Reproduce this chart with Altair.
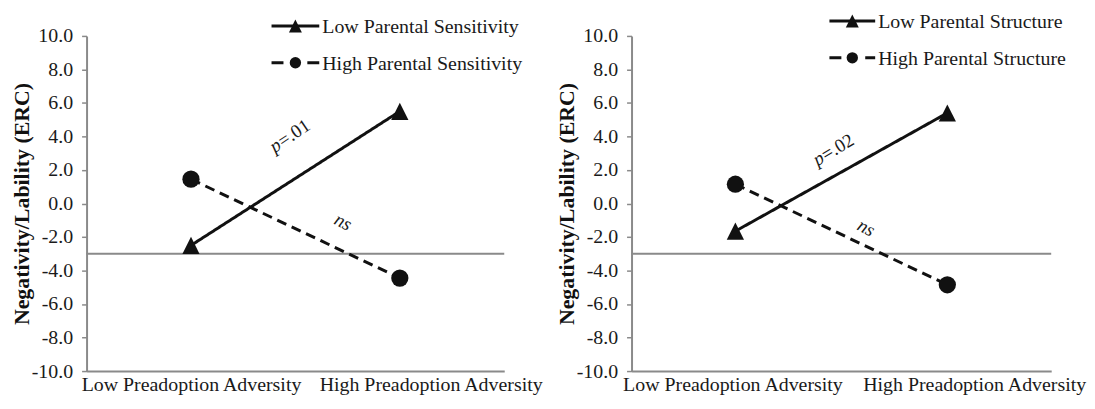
import altair as alt
import pandas as pd

# ---------------- data ----------------
CATEGORIES = ["Low Preadoption Adversity", "High Preadoption Adversity"]
Y_TICKS = [-10, -8, -6, -4, -2, 0, 2, 4, 6, 8, 10]
Y_TITLE = "Negativity/Lability (ERC)"
REF_LINE = -3.0

SENS_SERIES = ["Low Parental Sensitivity", "High Parental Sensitivity"]
SENS_LOW = [-2.5, 5.5]      # low parental sensitivity
SENS_HIGH = [1.45, -4.45]   # high parental sensitivity
SENS_P = "=.01"

STRUCT_SERIES = ["Low Parental Structure", "High Parental Structure"]
STRUCT_LOW = [-1.65, 5.4]
STRUCT_HIGH = [1.15, -4.85]
STRUCT_P = "=.02"

NS_LABEL = "ns"
P_LETTER = "p"

# ---------------- style ----------------
FONT = "Liberation Serif"
GRAY = "#8a8a8a"
INK = "#111111"
TXT = "#1a1a1a"
TRI = "M-1,1L0,-1L1,1Z"
PLOT_H = 337


def build_panel(names, low_vals, high_vals, p_text, width, pad, lay):
    df = pd.DataFrame({
        "adversity": CATEGORIES + CATEGORIES,
        "series": [names[0]] * 2 + [names[1]] * 2,
        "value": low_vals + high_vals,
    })
    x_enc = alt.X(
        "adversity:N", sort=CATEGORIES,
        scale=alt.Scale(type="point", padding=pad),
        axis=alt.Axis(
            title=None, ticks=False, grid=False, labelAngle=0,
            domainColor=GRAY, domainWidth=2,
            labelFont=FONT, labelFontSize=20, labelColor=TXT,
            labelPadding=4, labelLimit=400, labelOverlap=False,
            labelOffset={
                "condition": {"test": "datum.value === 'High Preadoption Adversity'",
                              "value": lay["hi_off"]},
                "value": lay["lo_off"],
            },
        ),
    )
    y_axis = alt.Axis(
        title=Y_TITLE, values=Y_TICKS, grid=False, labelOverlap=False,
        labelExpr="(datum.value < 0 ? '-' : '') + format(abs(datum.value), '.1f')",
        labelFont=FONT, labelFontSize=20, labelColor=TXT,
        labelPadding=9, tickSize=5, tickColor=GRAY, tickWidth=1.5,
        domainColor=GRAY, domainWidth=2,
        titleFont=FONT, titleFontSize=22, titleFontWeight="bold",
        titleColor=INK, titlePadding=-2,
    )
    y_scale = alt.Scale(domain=[-10, 10], nice=False, zero=False)
    y_enc = alt.Y("value:Q", scale=y_scale, axis=y_axis)

    base = alt.Chart(df)
    ref = alt.Chart(pd.DataFrame({"value": [REF_LINE]})).mark_rule(
        color=GRAY, strokeWidth=2
    ).encode(y=y_enc)
    lines = base.mark_line(color=INK, strokeWidth=3).encode(
        x=x_enc, y=y_enc,
        detail="series:N",
        strokeDash=alt.StrokeDash(
            "series:N",
            scale=alt.Scale(domain=names, range=[[1, 0], [10, 6]]),
            legend=None,
        ),
    )
    points = base.mark_point(filled=True, color=INK, opacity=1, size=300).encode(
        x=x_enc, y=y_enc,
        shape=alt.Shape(
            "series:N",
            scale=alt.Scale(domain=names, range=[TRI, "circle"]),
            legend=None,
        ),
    )
    layers = [ref, lines, points]

    # legend (drawn manually: line + marker + label)
    for i, name in enumerate(names):
        ldf = pd.DataFrame({"series": [name]})
        ly = lay["leg_y"][i]
        x0, x1 = lay["leg_x"]
        layers.append(
            alt.Chart(ldf).mark_rule(
                color=INK, strokeWidth=3,
                strokeDash=[1, 0] if i == 0 else [12, 24],
            ).encode(x=alt.value(x0), x2=alt.value(x1), y=alt.value(ly))
        )
        layers.append(
            alt.Chart(ldf).mark_point(
                filled=True, color=INK, opacity=1,
                shape=TRI if i == 0 else "circle",
                size=170 if i == 0 else 130,
            ).encode(x=alt.value((x0 + x1) / 2), y=alt.value(ly))
        )
        layers.append(
            alt.Chart(ldf).mark_text(
                align="left", baseline="middle", font=FONT, fontSize=20,
                color=TXT,
            ).encode(x=alt.value(x1 + 3), y=alt.value(ly + 1), text="series:N")
        )

    # annotations
    adf = pd.DataFrame({"p": [P_LETTER], "v": [p_text], "ns": [NS_LABEL]})
    px, py = lay["p_pos"]
    layers.append(
        alt.Chart(adf).mark_text(
            align="left", baseline="middle", font=FONT, fontSize=19,
            fontStyle="italic", angle=lay["p_ang"], color=TXT,
        ).encode(x=alt.value(px), y=alt.value(py), text="p:N")
    )
    layers.append(
        alt.Chart(adf).mark_text(
            align="left", baseline="middle", font=FONT, fontSize=19,
            angle=lay["p_ang"], dx=10, color=TXT,
        ).encode(x=alt.value(px), y=alt.value(py), text="v:N")
    )
    nx, ny = lay["ns_pos"]
    layers.append(
        alt.Chart(adf).mark_text(
            align="center", baseline="middle", font=FONT, fontSize=19,
            fontStyle="italic", angle=lay["ns_ang"], color=TXT,
        ).encode(x=alt.value(nx), y=alt.value(ny), text="ns:N")
    )

    return alt.layer(*layers).properties(width=width, height=PLOT_H)


left = build_panel(
    SENS_SERIES, SENS_LOW, SENS_HIGH, SENS_P, 420, 0.5,
    dict(hi_off=31, lo_off=0, leg_x=(186, 234), leg_y=(-10, 27),
         p_pos=(186, 113), p_ang=326, ns_pos=(258, 187), ns_ang=27),
)
right = build_panel(
    STRUCT_SERIES, STRUCT_LOW, STRUCT_HIGH, STRUCT_P, 422, 0.49,
    dict(hi_off=27, lo_off=-3, leg_x=(199, 245), leg_y=(-15, 22),
         p_pos=(184, 126), p_ang=329, ns_pos=(236, 193), ns_ang=28),
)

chart = alt.hconcat(left, right, spacing=128, bounds="flush").properties(
    padding={"left": 2, "top": 3, "right": 0, "bottom": 1}
).configure_view(stroke=None)

chart.save("out.html", embed_options={"renderer": "svg", "actions": False})
